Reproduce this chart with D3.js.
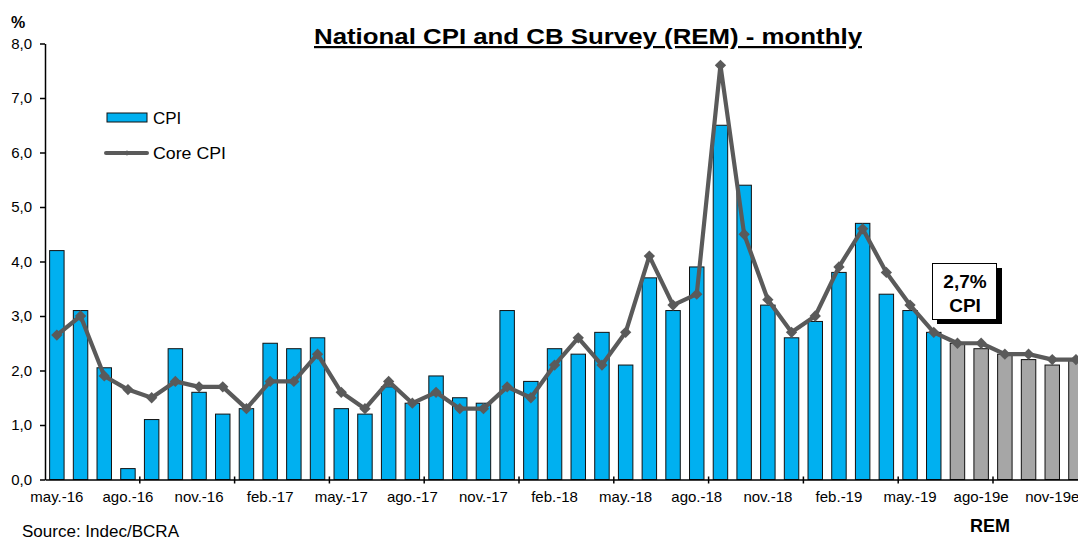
<!DOCTYPE html>
<html>
<head>
<meta charset="utf-8">
<script src="https://cdn.jsdelivr.net/npm/d3@7"></script>
<style>
  body { margin: 0; background: #fff; }
  svg { display: block; font-family: Arial, "Liberation Sans", sans-serif; }
</style>
</head>
<body>
<svg id="chart" width="1078" height="542"></svg>
<script>
// categories, may-16 .. dec-19 (last ones are REM survey estimates)
const months = [
  'may.-16', 'jun.-16', 'jul.-16', 'ago.-16', 'sep.-16', 'oct.-16', 'nov.-16', 'dic.-16',
  'ene.-17', 'feb.-17', 'mar.-17', 'abr.-17', 'may.-17', 'jun.-17', 'jul.-17', 'ago.-17',
  'sep.-17', 'oct.-17', 'nov.-17', 'dic.-17', 'ene.-18', 'feb.-18', 'mar.-18', 'abr.-18',
  'may.-18', 'jun.-18', 'jul.-18', 'ago.-18', 'sep.-18', 'oct.-18', 'nov.-18', 'dic.-18',
  'ene.-19', 'feb.-19', 'mar.-19', 'abr.-19', 'may.-19', 'jun.-19', 'jul-19e', 'ago-19e',
  'sep-19e', 'oct-19e', 'nov-19e', 'dic-19e'
]
// x labels shown every 3 months
const tickLabels = [
  'may.-16', 'ago.-16', 'nov.-16', 'feb.-17', 'may.-17', 'ago.-17', 'nov.-17', 'feb.-18',
  'may.-18', 'ago.-18', 'nov.-18', 'feb.-19', 'may.-19', 'ago-19e', 'nov-19e'
]

// CPI monthly (observed)
const cpi = [
  4.2, 3.1, 2.05, 0.2, 1.1, 2.4, 1.6, 1.2,
  1.3, 2.5, 2.4, 2.6, 1.3, 1.2, 1.7, 1.4,
  1.9, 1.5, 1.4, 3.1, 1.8, 2.4, 2.3, 2.7,
  2.1, 3.7, 3.1, 3.9, 6.5, 5.4, 3.2, 2.6,
  2.9, 3.8, 4.7, 3.4, 3.1, 2.7
]
// CPI expected by the REM survey
const remCpi = [2.5, 2.4, 2.3, 2.2, 2.1, 2.2]

// Core CPI
const coreCpi = [
  2.65, 3.0, 1.9, 1.65, 1.5, 1.8, 1.7, 1.7,
  1.3, 1.8, 1.8, 2.3, 1.6, 1.3, 1.8, 1.4,
  1.6, 1.3, 1.3, 1.7, 1.5, 2.1, 2.6, 2.1,
  2.7, 4.1, 3.2, 3.4, 7.6, 4.5, 3.3, 2.7,
  3.0, 3.9, 4.6, 3.8, 3.2, 2.7, 2.5, 2.5,
  2.3, 2.3, 2.2, 2.2
]

const blue = '#00b0f0'
const grey = '#a6a6a6'
const lineColor = '#5a5a5a'

const svg = d3.select('#chart')

const plotLeft = 45
const step = 23.7
const x = d3.scaleBand()
  .domain(months)
  .range([plotLeft, plotLeft + months.length * step])
  .paddingInner(0.39)
  .paddingOuter(0.195)

const y = d3.scaleLinear().domain([0, 8]).range([479.5, 43.5])

const bars = cpi.map((v, i) => ({month: months[i], value: v, rem: false}))
  .concat(remCpi.map((v, i) => ({month: months[cpi.length + i], value: v, rem: true})))

// bars
svg.append('g')
  .selectAll('rect')
  .data(bars)
  .join('rect')
  .attr('x', d => x(d.month))
  .attr('y', d => y(d.value))
  .attr('width', x.bandwidth())
  .attr('height', d => y(0) - y(d.value))
  .attr('fill', d => d.rem ? grey : blue)
  .attr('stroke', '#111')
  .attr('stroke-width', 1)

// core line
const center = m => x(m) + x.bandwidth() / 2
const line = d3.line()
  .x((d, i) => center(months[i]))
  .y(d => y(d))

svg.append('path')
  .datum(coreCpi)
  .attr('d', line)
  .attr('fill', 'none')
  .attr('stroke', lineColor)
  .attr('stroke-width', 4.2)
  .attr('stroke-linejoin', 'round')

const diamond = d3.symbol().type(d3.symbolSquare).size(64)
svg.append('g')
  .selectAll('path')
  .data(coreCpi)
  .join('path')
  .attr('d', diamond)
  .attr('transform', (d, i) => 'translate(' + center(months[i]) + ',' + y(d) + ') rotate(45)')
  .attr('fill', lineColor)

// y axis
const yAxis = svg.append('g')
  .attr('transform', 'translate(' + plotLeft + ',0)')
  .call(d3.axisLeft(y)
    .tickValues(d3.range(0, 9))
    .tickFormat(d => d.toFixed(1).replace('.', ','))
    .tickSize(5)
    .tickSizeOuter(0)
    .tickPadding(8))
yAxis.select('.domain').attr('stroke', '#000').attr('stroke-width', 1.5)
yAxis.selectAll('.tick line').attr('stroke', '#000').attr('stroke-width', 1.5)
yAxis.selectAll('.tick text').attr('font-size', 15).attr('fill', '#000')

// x axis: labels every 3 months, tick marks every 4
const labelMonths = months.filter((m, i) => i % 3 === 0)
const xAxis = svg.append('g')
  .attr('transform', 'translate(0,' + y(0) + ')')
  .call(d3.axisBottom(x)
    .tickValues(labelMonths)
    .tickFormat((d, i) => tickLabels[i])
    .tickSize(0)
    .tickSizeOuter(0)
    .tickPadding(12))
xAxis.select('.domain').attr('stroke', '#000').attr('stroke-width', 1.5)
xAxis.selectAll('.tick text')
  .attr('font-size', 15)
  .attr('fill', '#000')

const gap = (x.step() - x.bandwidth()) / 2
svg.append('g')
  .selectAll('line')
  .data(months.filter((m, i) => i > 0 && i % 4 === 0))
  .join('line')
  .attr('x1', m => x(m) - gap)
  .attr('x2', m => x(m) - gap)
  .attr('y1', y(0) - 3)
  .attr('y2', y(0) + 4)
  .attr('stroke', '#000')
  .attr('stroke-width', 1.5)

// title
svg.append('text')
  .attr('x', 314)
  .attr('y', 44)
  .attr('font-size', 22)
  .attr('font-weight', 'bold')
  .attr('text-decoration', 'underline')
  .attr('textLength', 548)
  .attr('lengthAdjust', 'spacingAndGlyphs')
  .text('National CPI and CB Survey (REM) - monthly')

svg.append('text')
  .attr('x', 11)
  .attr('y', 28)
  .attr('font-size', 16)
  .attr('font-weight', 'bold')
  .text('%')

// legend
const legend = svg.append('g')
legend.append('rect')
  .attr('x', 107).attr('y', 113).attr('width', 40).attr('height', 9)
  .attr('fill', blue).attr('stroke', '#111').attr('stroke-width', 1)
legend.append('text')
  .attr('x', 153).attr('y', 124).attr('font-size', 17).text('CPI')
legend.append('line')
  .attr('x1', 106).attr('x2', 147).attr('y1', 153).attr('y2', 153)
  .attr('stroke', lineColor).attr('stroke-width', 4).attr('stroke-linecap', 'round')
legend.append('path')
  .attr('d', d3.symbol().type(d3.symbolSquare).size(14))
  .attr('transform', 'translate(127,153) rotate(45)')
  .attr('fill', lineColor)
legend.append('text')
  .attr('x', 153).attr('y', 159).attr('font-size', 17)
  .attr('textLength', 73).attr('lengthAdjust', 'spacingAndGlyphs').text('Core CPI')

// annotation box
const note = svg.append('g')
note.append('rect')
  .attr('x', 937).attr('y', 268).attr('width', 65).attr('height', 56)
  .attr('fill', '#000')
note.append('rect')
  .attr('x', 932.5).attr('y', 263.5).attr('width', 64).attr('height', 56)
  .attr('fill', '#fff').attr('stroke', '#000').attr('stroke-width', 1)
note.append('text')
  .attr('x', 965).attr('y', 288).attr('text-anchor', 'middle')
  .attr('font-size', 19).attr('font-weight', 'bold').text('2,7%')
note.append('text')
  .attr('x', 965).attr('y', 312).attr('text-anchor', 'middle')
  .attr('font-size', 19).attr('font-weight', 'bold').text('CPI')

svg.append('text')
  .attr('x', 990).attr('y', 532).attr('text-anchor', 'middle')
  .attr('font-size', 18).attr('font-weight', 'bold').text('REM')

svg.append('text')
  .attr('x', 22).attr('y', 537).attr('font-size', 16)
  .attr('textLength', 157).attr('lengthAdjust', 'spacingAndGlyphs')
  .text('Source: Indec/BCRA')
</script>
</body>
</html>
